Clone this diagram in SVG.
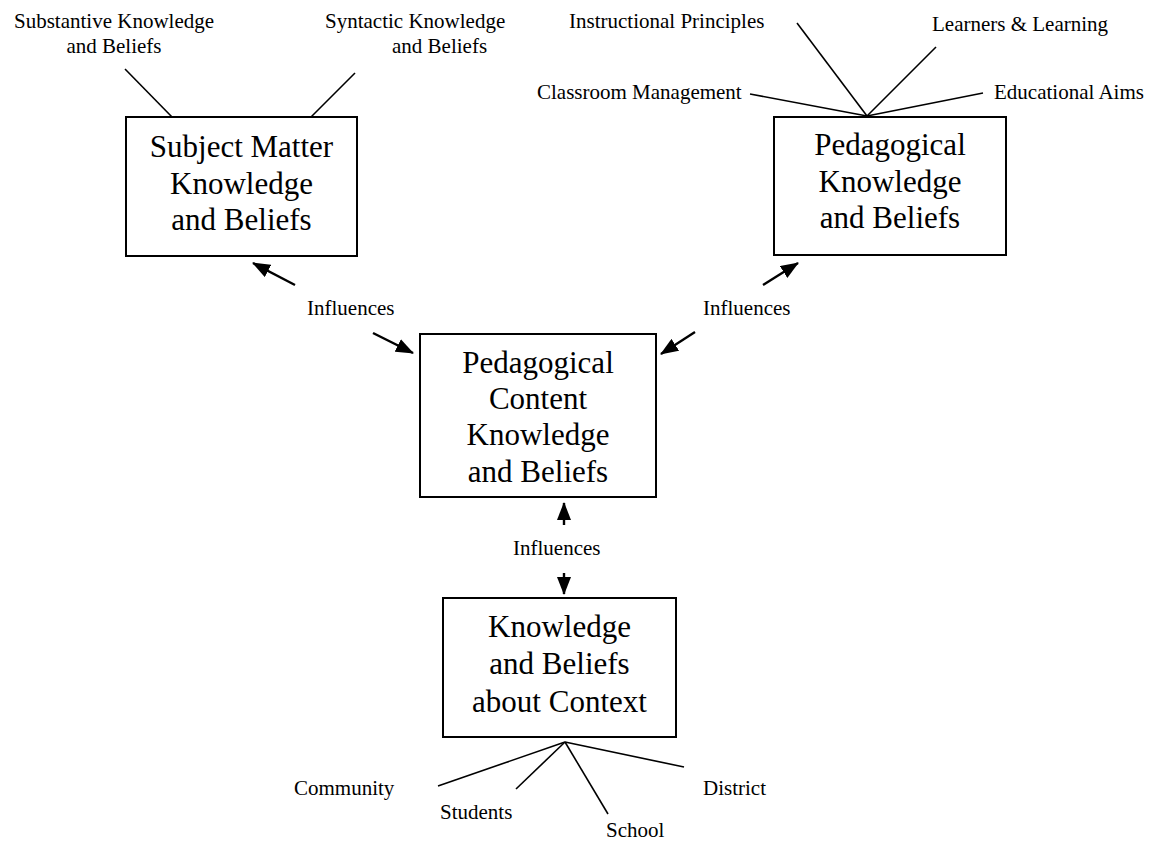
<svg xmlns="http://www.w3.org/2000/svg" width="1160" height="843" viewBox="0 0 1160 843">
<style>
.box{fill:#fff;stroke:#000;stroke-width:2}
.big{font-family:"Liberation Serif","Times New Roman",serif;font-size:31px;fill:#000;text-anchor:middle}
.sm{font-family:"Liberation Serif","Times New Roman",serif;font-size:21px;fill:#000}
.ln{stroke:#000;stroke-width:1.6;fill:none}
.ar{stroke:#000;stroke-width:2.4;fill:none;marker-end:url(#ah)}
</style>
<defs>
<marker id="ah" viewBox="0 0 18 14" markerWidth="18" markerHeight="14" refX="17" refY="7" orient="auto" markerUnits="userSpaceOnUse">
<path d="M0,0 L18,7 L0,14 z" fill="#000"/>
</marker>
</defs>
<rect width="1160" height="843" fill="#fff"/>
<g id="connectors">
<line class="ln" x1="125" y1="69" x2="172" y2="117"/>
<line class="ln" x1="355" y1="73" x2="311" y2="117"/>
<line class="ln" x1="797" y1="23" x2="867" y2="116"/>
<line class="ln" x1="936" y1="47" x2="867" y2="116"/>
<line class="ln" x1="750" y1="94" x2="867" y2="116"/>
<line class="ln" x1="983" y1="93" x2="867" y2="116"/>
<line class="ln" x1="565" y1="742" x2="438" y2="786"/>
<line class="ln" x1="565" y1="742" x2="516" y2="789"/>
<line class="ln" x1="565" y1="742" x2="608" y2="814"/>
<line class="ln" x1="565" y1="742" x2="684" y2="767"/>
<line class="ar" x1="295" y1="285" x2="253" y2="263"/>
<line class="ar" x1="373" y1="333" x2="413" y2="353"/>
<line class="ar" x1="763" y1="285" x2="798" y2="263"/>
<line class="ar" x1="695" y1="332" x2="661" y2="354"/>
<line class="ar" x1="564" y1="525" x2="564" y2="503"/>
<line class="ar" x1="564" y1="573" x2="564" y2="594"/>
<text class="sm" x="307" y="315">Influences</text>
<text class="sm" x="703" y="315">Influences</text>
<text class="sm" x="513" y="555">Influences</text>
</g>
<g id="subject-matter">
<rect class="box" x="126" y="117" width="231" height="139"/>
<text class="big" x="241.5" y="157">Subject Matter</text>
<text class="big" x="241.5" y="194">Knowledge</text>
<text class="big" x="241.5" y="230">and Beliefs</text>
</g>
<g id="substantive">
<text class="sm" x="114" y="28" text-anchor="middle">Substantive Knowledge</text>
<text class="sm" x="114" y="53" text-anchor="middle">and Beliefs</text>
</g>
<g id="syntactic">
<text class="sm" x="325" y="28">Syntactic Knowledge</text>
<text class="sm" x="392" y="53">and Beliefs</text>
</g>
<g id="pedagogical">
<rect class="box" x="774" y="117" width="232" height="138"/>
<text class="big" x="890" y="155">Pedagogical</text>
<text class="big" x="890" y="192">Knowledge</text>
<text class="big" x="890" y="228">and Beliefs</text>
</g>
<g id="instructional"><text class="sm" x="569" y="28">Instructional Principles</text></g>
<g id="learners"><text class="sm" x="932" y="31">Learners &amp; Learning</text></g>
<g id="classroom"><text class="sm" x="537" y="99">Classroom Management</text></g>
<g id="aims"><text class="sm" x="994" y="99">Educational Aims</text></g>
<g id="pck">
<rect class="box" x="420" y="334" width="236" height="163"/>
<text class="big" x="538" y="373">Pedagogical</text>
<text class="big" x="538" y="409">Content</text>
<text class="big" x="538" y="445">Knowledge</text>
<text class="big" x="538" y="482">and Beliefs</text>
</g>
<g id="context">
<rect class="box" x="443" y="598" width="233" height="139"/>
<text class="big" x="559.5" y="637">Knowledge</text>
<text class="big" x="559.5" y="674">and Beliefs</text>
<text class="big" x="559.5" y="712">about Context</text>
</g>
<g id="community"><text class="sm" x="294" y="795">Community</text></g>
<g id="students"><text class="sm" x="440" y="819">Students</text></g>
<g id="school"><text class="sm" x="606" y="837">School</text></g>
<g id="district"><text class="sm" x="703" y="795">District</text></g>
</svg>
